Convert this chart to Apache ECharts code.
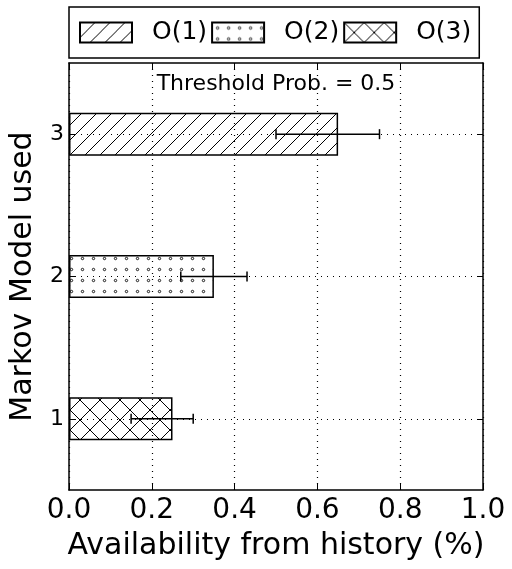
<!DOCTYPE html>
<html>
<head>
<meta charset="utf-8">
<script src="https://cdn.jsdelivr.net/npm/echarts@6/dist/echarts.min.js"></script>
<style>html,body{margin:0;padding:0;background:#fff}#c{width:512px;height:569px}</style>
</head>
<body>
<div id="c"></div>
<script>
// ---- data ----
const categories = ['1', '2', '3'];
const seriesNames = ['O(1)', 'O(2)', 'O(3)'];
const valuesO1 = [null, null, 0.65];
const valuesO2 = [null, 0.35, null];
const valuesO3 = [0.25, null, null];
const errLow  = [0.15, 0.27, 0.50];
const errHigh = [0.30, 0.43, 0.75];
const xTicks = [0.0, 0.2, 0.4, 0.6, 0.8, 1.0];
const annotation = 'Threshold Prob. = 0.5';
const xTitle = 'Availability from history (%)';
const yTitle = 'Markov Model used';

// ---- hatch patterns ----
function makePattern(kind) {
  const c = document.createElement('canvas');
  const ctx = c.getContext('2d');
  ctx.strokeStyle = '#000';
  ctx.fillStyle = '#000';
  if (kind === '/') {
    const s = 15; c.width = s; c.height = s;
    ctx.lineWidth = 1;
    ctx.beginPath();
    for (let k = -1; k <= 1; k++) {
      ctx.moveTo(k * s - 1, s + 1); ctx.lineTo(k * s + s + 1, -1);
    }
    ctx.stroke();
  } else if (kind === 'o') {
    const s = 11; c.width = s; c.height = s;
    ctx.lineWidth = 0.9;
    ctx.beginPath(); ctx.arc(s / 2, s / 2, 1.2, 0, Math.PI * 2); ctx.stroke();
  } else {
    const s = 20; c.width = s; c.height = s;
    ctx.lineWidth = 1;
    ctx.beginPath();
    for (let k = -1; k <= 1; k++) {
      ctx.moveTo(k * s - 1, s + 1); ctx.lineTo(k * s + s + 1, -1);
      ctx.moveTo(k * s - 1, -1); ctx.lineTo(k * s + s + 1, s + 1);
    }
    ctx.stroke();
  }
  return { image: c, repeat: 'repeat' };
}

const FONT = 'DejaVu Sans';
const chart = echarts.init(document.getElementById('c'), null, { renderer: 'canvas' });

const barCommon = {
  type: 'bar',
  barWidth: 43,
  barGap: '-100%',
  xAxisIndex: 0, yAxisIndex: 0,
  z: 2
};
const patterns = [makePattern('/'), makePattern('o'), makePattern('x')];
const barData = [valuesO1, valuesO2, valuesO3];

const option = {
  animation: false,
  backgroundColor: '#fff',
  textStyle: { fontFamily: FONT, color: '#000' },
  legend: {
    data: seriesNames,
    left: 69, top: 7,
    padding: [13, 8, 13, 10],
    itemWidth: 52, itemHeight: 20, itemGap: 4,
    icon: 'rect',
    borderColor: '#000', borderWidth: 1.5,
    textStyle: { fontFamily: FONT, fontSize: 25, color: '#000', padding: [0, 0, 0, 15] }
  },
  grid: { left: 69, right: 29, top: 63, bottom: 79, containLabel: false },
  xAxis: [{
    type: 'value', min: 0, max: 1, interval: 0.2, position: 'bottom',
    name: xTitle, nameLocation: 'middle', nameGap: 41,
    nameTextStyle: { fontFamily: FONT, fontSize: 30, color: '#000' },
    axisLine: { show: true, onZero: false, lineStyle: { color: '#000', width: 1.5 } },
    axisTick: { show: true, inside: true, length: 6, lineStyle: { color: '#000', width: 1 } },
    axisLabel: { fontFamily: FONT, fontSize: 28, color: '#000', margin: 7,
      formatter: v => { const t = xTicks.find(x => Math.abs(x - v) < 1e-9); return (t !== undefined ? t : v).toFixed(1); } },
    splitLine: { show: true, lineStyle: { color: '#000', width: 1.2, type: [1, 5] } }
  }, {
    type: 'value', min: 0, max: 1, interval: 0.2, position: 'top',
    axisLine: { show: true, onZero: false, lineStyle: { color: '#000', width: 1.5 } },
    axisTick: { show: true, inside: true, length: 6, lineStyle: { color: '#000', width: 1 } },
    axisLabel: { show: false }, splitLine: { show: false }
  }],
  yAxis: [{
    type: 'category', data: categories, position: 'left',
    name: yTitle, nameLocation: 'middle', nameGap: 31, nameRotate: 90,
    nameTextStyle: { fontFamily: FONT, fontSize: 30, color: '#000' },
    axisLine: { show: true, onZero: false, lineStyle: { color: '#000', width: 1.5 } },
    axisTick: { show: true, inside: true, length: 6, alignWithLabel: true, lineStyle: { color: '#000', width: 1 } },
    axisLabel: { fontFamily: FONT, fontSize: 22, color: '#000', margin: 5 },
    splitLine: { show: false }
  }, {
    type: 'category', data: categories, position: 'right',
    axisLine: { show: true, onZero: false, lineStyle: { color: '#000', width: 1.5 } },
    axisTick: { show: true, inside: true, length: 6, alignWithLabel: true, lineStyle: { color: '#000', width: 1 } },
    axisLabel: { show: false }, splitLine: { show: false }
  }],
  graphic: [{
    type: 'text', x: 276, y: 84, z: 10,
    style: { text: annotation, font: '22px "DejaVu Sans"', fill: '#000', textAlign: 'center', textVerticalAlign: 'middle' }
  }],
  series: [
    ...seriesNames.map((n, i) => Object.assign({}, barCommon, {
      name: n,
      data: barData[i],
      itemStyle: { color: patterns[i], borderColor: '#000', borderWidth: 1.5 }
    })),
    {
      type: 'line', name: '_grid', data: [], silent: true,
      markLine: {
        silent: true, symbol: 'none', animation: false,
        label: { show: false },
        lineStyle: { color: '#000', width: 1.2, type: [1, 5] },
        data: categories.map(c => ({ yAxis: c }))
      }
    },
    {
      type: 'custom', name: '_err', z: 5,
      data: categories.map((c, i) => [i, errLow[i], errHigh[i]]),
      encode: { y: 0, x: [1, 2] },
      renderItem: (params, api) => {
        const yi = api.value(0);
        const a = api.coord([api.value(1), yi]);
        const b = api.coord([api.value(2), yi]);
        const h = 5;
        const st = { stroke: '#000', lineWidth: 1.5 };
        return { type: 'group', children: [
          { type: 'line', shape: { x1: a[0], y1: a[1], x2: b[0], y2: b[1] }, style: st },
          { type: 'line', shape: { x1: a[0], y1: a[1] - h, x2: a[0], y2: a[1] + h }, style: st },
          { type: 'line', shape: { x1: b[0], y1: b[1] - h, x2: b[0], y2: b[1] + h }, style: st }
        ]};
      }
    }
  ]
};
chart.setOption(option);
</script>
</body>
</html>
